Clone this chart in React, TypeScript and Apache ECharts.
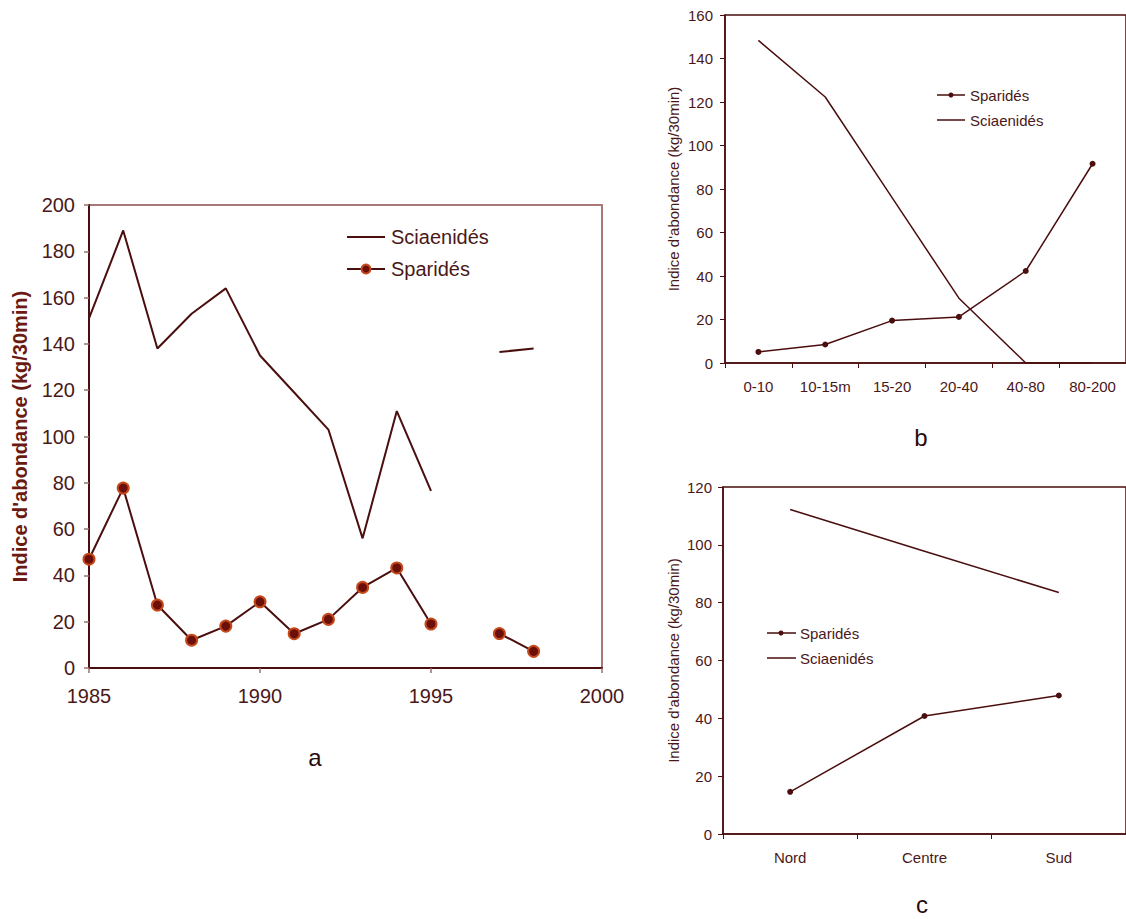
import React, { useEffect, useRef } from "react";
import * as echarts from "echarts";

// ---- Data ----
const yearsA = [1985, 1986, 1987, 1988, 1989, 1990, 1991, 1992, 1993, 1994, 1995, 1996, 1997, 1998];
const sciaenidesA = [151, 189, 138, 153, 164, 135, 119, 103, 56, 111, 76.5, null, 136.5, 138];
const sparidesA = [47, 77.7, 27.2, 12, 18.1, 28.6, 14.8, 21, 34.8, 43.2, 19, null, 14.9, 7.2];

const depthCats = ["0-10", "10-15m", "15-20", "20-40", "40-80", "80-200"];
const sparidesB = [5.1, 8.5, 19.5, 21.2, 42.3, 91.6];
const sciaenidesB = [148.3, 122.3, 76, 29.8, 0, 0];

const regionCats = ["Nord", "Centre", "Sud"];
const sparidesC = [14.6, 40.8, 47.9];
const sciaenidesC = [112.2, 97.8, 83.5];

const yName = "Indice d'abondance (kg/30min)";

const LINE = "#4a0e0e";
const TEXT = "#4a1818";
const FONT = "'Liberation Sans', Arial, Helvetica, sans-serif";

export default function App() {
  const ref = useRef<HTMLDivElement>(null);
  useEffect(() => {
    if (!ref.current) return;
    const chart = echarts.init(ref.current, undefined, { renderer: "svg" });
    const axisLine = { show: true, lineStyle: { color: LINE, width: 2 } };
    const axisLineThin = { show: true, lineStyle: { color: LINE, width: 1.5 } };
    const option: any = {
      animation: false,
      textStyle: { fontFamily: FONT, color: TEXT },
      grid: [
        { left: 89, top: 205, width: 513, height: 463, show: true, borderColor: "#a87878", borderWidth: 2, backgroundColor: "transparent" },
        { left: 725, top: 15, width: 405, height: 348, show: true, borderColor: LINE, borderWidth: 1.5, backgroundColor: "transparent" },
        { left: 723, top: 487, width: 407, height: 347, show: true, borderColor: LINE, borderWidth: 1.5, backgroundColor: "transparent" },
      ],
      xAxis: [
        {
          gridIndex: 0, type: "value", min: 1985, max: 2000, interval: 5,
          axisLine, splitLine: { show: false },
          axisTick: { show: true, inside: false, length: 5, lineStyle: { color: "#9a7070", width: 1.5 } },
          axisLabel: { fontSize: 20, color: TEXT, margin: 18, fontFamily: FONT, formatter: (v: number) => String(v) },
        },
        {
          gridIndex: 1, type: "category", data: depthCats, boundaryGap: true,
          axisLine: axisLineThin, splitLine: { show: false },
          axisTick: { show: true, inside: false, length: 5, alignWithLabel: false, lineStyle: { color: LINE } },
          axisLabel: { fontSize: 15, color: TEXT, margin: 16, fontFamily: FONT },
        },
        {
          gridIndex: 2, type: "category", data: regionCats, boundaryGap: true,
          axisLine: axisLineThin, splitLine: { show: false },
          axisTick: { show: true, inside: false, length: 5, lineStyle: { color: LINE } },
          axisLabel: { fontSize: 15, color: TEXT, margin: 16, fontFamily: FONT },
        },
      ],
      yAxis: [
        {
          gridIndex: 0, type: "value", min: 0, max: 200, interval: 20,
          axisLine, splitLine: { show: false },
          axisTick: { show: true, inside: false, length: 5, lineStyle: { color: "#9a7070", width: 1.5 } },
          axisLabel: { fontSize: 20, color: TEXT, margin: 14, fontFamily: FONT },
          name: yName, nameLocation: "middle", nameGap: 59, nameRotate: 90,
          nameTextStyle: { fontSize: 20, fontWeight: "bold", color: "#6a1a12", fontFamily: FONT },
        },
        {
          gridIndex: 1, type: "value", min: 0, max: 160, interval: 20,
          axisLine: axisLineThin, splitLine: { show: false },
          axisTick: { show: true, inside: false, length: 5, lineStyle: { color: LINE } },
          axisLabel: { fontSize: 15, color: TEXT, margin: 12, fontFamily: FONT },
          name: yName, nameLocation: "middle", nameGap: 44, nameRotate: 90,
          nameTextStyle: { fontSize: 15, color: TEXT, fontFamily: FONT },
        },
        {
          gridIndex: 2, type: "value", min: 0, max: 120, interval: 20,
          axisLine: axisLineThin, splitLine: { show: false },
          axisTick: { show: true, inside: false, length: 5, lineStyle: { color: LINE } },
          axisLabel: { fontSize: 15, color: TEXT, margin: 11, fontFamily: FONT },
          name: yName, nameLocation: "middle", nameGap: 42, nameRotate: 90,
          nameTextStyle: { fontSize: 15, color: TEXT, fontFamily: FONT },
        },
      ],
      series: [
        {
          name: "Sciaenidés", type: "line", xAxisIndex: 0, yAxisIndex: 0,
          data: yearsA.map((y, i) => [y, sciaenidesA[i]]),
          symbol: "none", connectNulls: false,
          lineStyle: { color: LINE, width: 2 },
        },
        {
          name: "Sparidés", type: "line", xAxisIndex: 0, yAxisIndex: 0,
          data: yearsA.map((y, i) => [y, sparidesA[i]]),
          symbol: "circle", symbolSize: 11, connectNulls: false,
          lineStyle: { color: LINE, width: 2 },
          itemStyle: { color: "#6b0f08", borderColor: "#c44a1c", borderWidth: 2 },
        },
        {
          name: "Sparidés", type: "line", xAxisIndex: 1, yAxisIndex: 1,
          data: sparidesB, symbol: "circle", symbolSize: 6,
          lineStyle: { color: LINE, width: 1.5 },
          itemStyle: { color: LINE },
        },
        {
          name: "Sciaenidés", type: "line", xAxisIndex: 1, yAxisIndex: 1,
          data: sciaenidesB, symbol: "none",
          lineStyle: { color: LINE, width: 1.5 },
        },
        {
          name: "Sparidés", type: "line", xAxisIndex: 2, yAxisIndex: 2,
          data: sparidesC, symbol: "circle", symbolSize: 6,
          lineStyle: { color: LINE, width: 1.5 },
          itemStyle: { color: LINE },
        },
        {
          name: "Sciaenidés", type: "line", xAxisIndex: 2, yAxisIndex: 2,
          data: sciaenidesC, symbol: "none",
          lineStyle: { color: LINE, width: 1.5 },
        },
      ],
      graphic: [
        // Legend a
        { type: "line", shape: { x1: 347, y1: 237, x2: 385, y2: 237 }, style: { stroke: LINE, lineWidth: 2 } },
        { type: "text", x: 391, y: 237, style: { text: "Sciaenidés", fontSize: 20, fill: TEXT, fontFamily: FONT, verticalAlign: "middle" } },
        { type: "line", shape: { x1: 347, y1: 269, x2: 385, y2: 269 }, style: { stroke: LINE, lineWidth: 2 } },
        { type: "circle", shape: { cx: 366, cy: 269, r: 4.5 }, style: { fill: "#6b0f08", stroke: "#c44a1c", lineWidth: 2 } },
        { type: "text", x: 391, y: 269, style: { text: "Sparidés", fontSize: 20, fill: TEXT, fontFamily: FONT, verticalAlign: "middle" } },
        // Legend b
        { type: "line", shape: { x1: 937, y1: 95, x2: 965, y2: 95 }, style: { stroke: LINE, lineWidth: 1.5 } },
        { type: "circle", shape: { cx: 951, cy: 95, r: 2.5 }, style: { fill: LINE } },
        { type: "text", x: 970, y: 95, style: { text: "Sparidés", fontSize: 15, fill: TEXT, fontFamily: FONT, verticalAlign: "middle" } },
        { type: "line", shape: { x1: 937, y1: 120, x2: 965, y2: 120 }, style: { stroke: LINE, lineWidth: 1.5 } },
        { type: "text", x: 970, y: 120, style: { text: "Sciaenidés", fontSize: 15, fill: TEXT, fontFamily: FONT, verticalAlign: "middle" } },
        // Legend c
        { type: "line", shape: { x1: 767, y1: 633, x2: 796, y2: 633 }, style: { stroke: LINE, lineWidth: 1.5 } },
        { type: "circle", shape: { cx: 781, cy: 633, r: 2.5 }, style: { fill: LINE } },
        { type: "text", x: 800, y: 633, style: { text: "Sparidés", fontSize: 15, fill: TEXT, fontFamily: FONT, verticalAlign: "middle" } },
        { type: "line", shape: { x1: 767, y1: 658, x2: 796, y2: 658 }, style: { stroke: LINE, lineWidth: 1.5 } },
        { type: "text", x: 800, y: 658, style: { text: "Sciaenidés", fontSize: 15, fill: TEXT, fontFamily: FONT, verticalAlign: "middle" } },
        // Panel labels
        { type: "text", x: 315, y: 757, style: { text: "a", fontSize: 24, fill: "#2a0a0a", fontFamily: FONT, align: "center", verticalAlign: "middle" } },
        { type: "text", x: 921, y: 437, style: { text: "b", fontSize: 24, fill: "#2a0a0a", fontFamily: FONT, align: "center", verticalAlign: "middle" } },
        { type: "text", x: 922, y: 904, style: { text: "c", fontSize: 24, fill: "#2a0a0a", fontFamily: FONT, align: "center", verticalAlign: "middle" } },
      ],
    };
    chart.setOption(option);
    return () => chart.dispose();
  }, []);
  return (
    <div
      ref={ref}
      style={{ position: "absolute", left: 0, top: 0, width: 1126, height: 919, background: "#ffffff" }}
    />
  );
}
